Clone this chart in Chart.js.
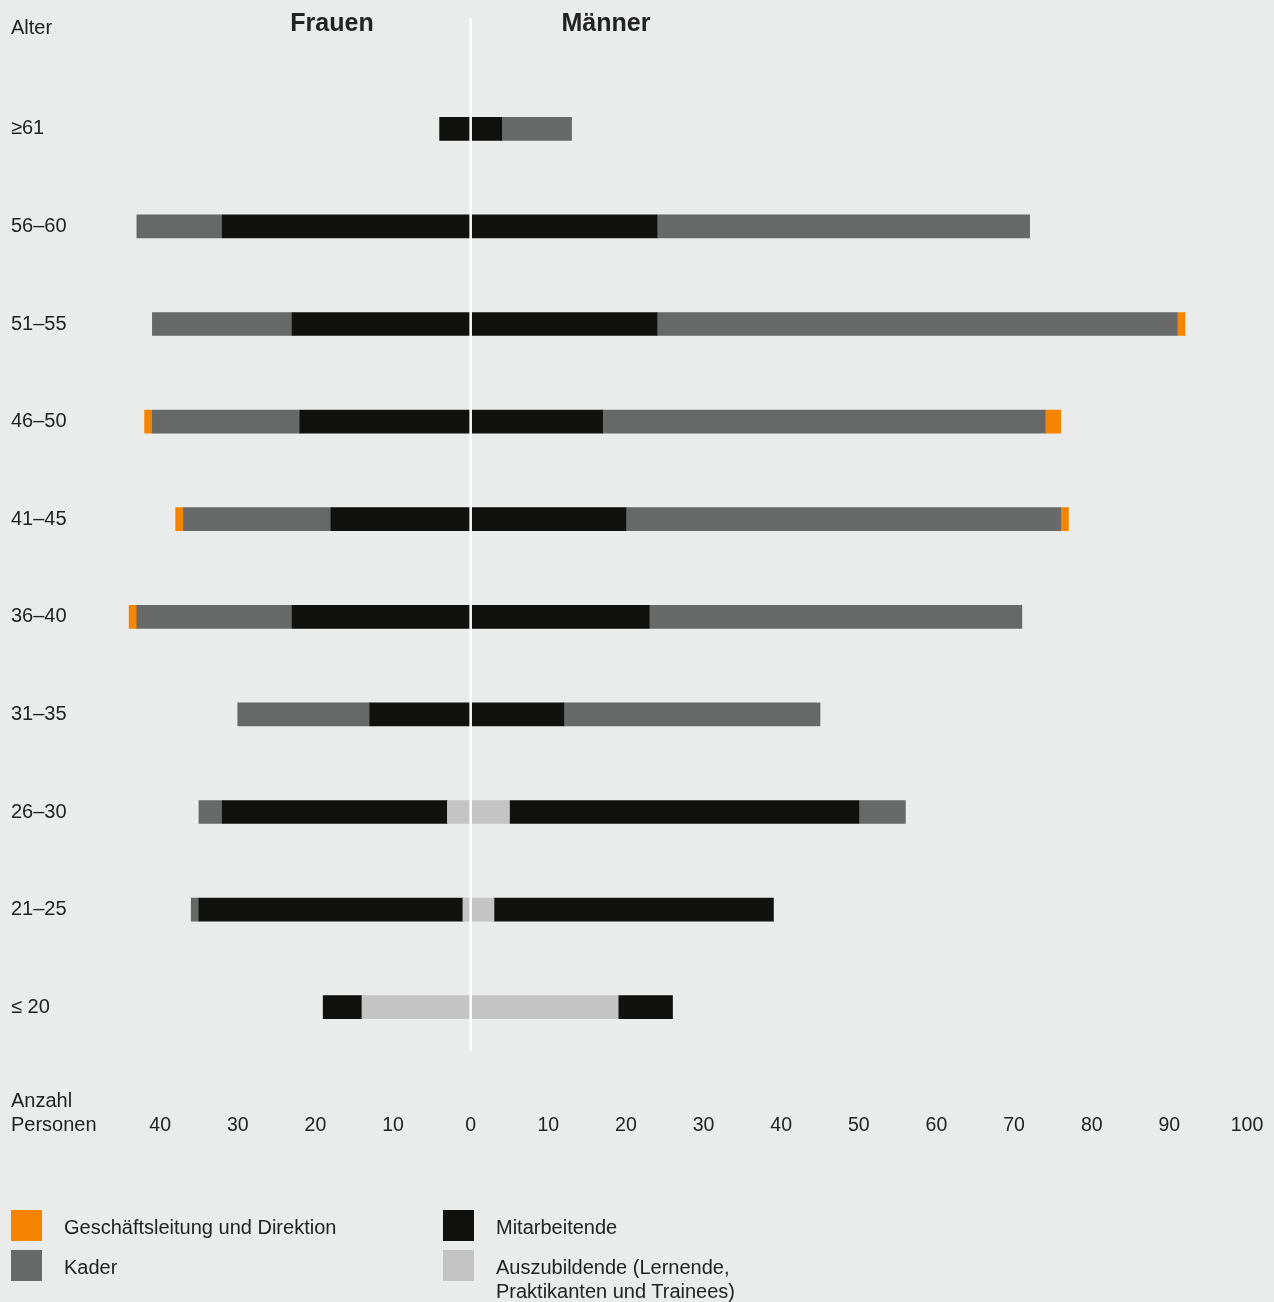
<!DOCTYPE html>
<html>
<head>
<meta charset="utf-8">
<script src="https://cdn.jsdelivr.net/npm/chart.js@4/dist/chart.umd.min.js"></script>
<style>
  body { margin: 0; background: #eaeceb; font-family: "Liberation Sans", Arial, sans-serif; color: #222; }
  #wrap { position: relative; width: 1274px; height: 1302px; }
  #chart { position: absolute; left: 0; top: 0; }
  .leg { position: absolute; font-size: 20px; line-height: 24px; }
  .sw { position: absolute; width: 31px; height: 31px; }
</style>
</head>
<body>
<div id="wrap">
  <canvas id="chart" width="1274" height="1302"></canvas>
  <div class="sw" style="left:11px;top:1210px;background:#f58400"></div>
  <div class="leg" style="left:64px;top:1215px">Geschäftsleitung und Direktion</div>
  <div class="sw" style="left:11px;top:1250px;background:#676968"></div>
  <div class="leg" style="left:64px;top:1255px">Kader</div>
  <div class="sw" style="left:443px;top:1210px;background:#111110"></div>
  <div class="leg" style="left:496px;top:1215px">Mitarbeitende</div>
  <div class="sw" style="left:443px;top:1250px;background:#c3c4c3"></div>
  <div class="leg" style="left:496px;top:1255px">Auszubildende (Lernende,<br>Praktikanten und Trainees)</div>
</div>
<script>
// Age groups (top to bottom)
const ageGroups = ["≥61", "56–60", "51–55", "46–50", "41–45", "36–40", "31–35", "26–30", "21–25", "≤ 20"];

// Frauen (drawn to the left)
const womenTrainees   = [0, 0, 0, 0, 0, 0, 0, 3, 1, 14];
const womenStaff      = [4, 32, 23, 22, 18, 23, 13, 29, 34, 5];
const womenCadre      = [0, 11, 18, 19, 19, 20, 17, 3, 1, 0];
const womenManagement = [0, 0, 0, 1, 1, 1, 0, 0, 0, 0];

// Männer (drawn to the right)
const menTrainees   = [0, 0, 0, 0, 0, 0, 0, 5, 3, 19];
const menStaff      = [4, 24, 24, 17, 20, 23, 12, 45, 36, 7];
const menCadre      = [9, 48, 67, 57, 56, 48, 33, 6, 0, 0];
const menManagement = [0, 0, 1, 2, 1, 0, 0, 0, 0, 0];

const colors = {
  management: "#f58400",
  cadre: "#676968",
  staff: "#111110",
  trainees: "#c3c4c3"
};

const FONT = '"Liberation Sans", Arial, sans-serif';
const TEXT = "#222222";

// zeros become null so no hairline bars get drawn
function left(arr) {
  return arr.map(v => (v === 0 ? null : -v));
}
function right(arr) {
  return arr.map(v => (v === 0 ? null : v));
}

function makeSet(label, data, color) {
  return {
    label: label,
    data: data,
    backgroundColor: color,
    borderWidth: 0,
    barThickness: 23,
    stack: "pyramid"
  };
}

// Extra texts + the white center line
const decorations = {
  id: "decorations",
  afterDatasetsDraw(chart) {
    const ctx = chart.ctx;
    const x0 = chart.scales.x.getPixelForValue(0);
    ctx.save();
    ctx.strokeStyle = "#ffffff";
    ctx.lineWidth = 2.5;
    ctx.beginPath();
    ctx.moveTo(x0, 18);
    ctx.lineTo(x0, 1051);
    ctx.stroke();

    ctx.fillStyle = TEXT;
    ctx.textBaseline = "middle";
    ctx.font = "bold 25px " + FONT;
    ctx.textAlign = "center";
    ctx.fillText("Frauen", 332, 24);
    ctx.fillText("Männer", 606, 24);

    ctx.font = "20px " + FONT;
    ctx.textAlign = "left";
    ctx.fillText("Alter", 11, 28);
    ctx.fillText("Anzahl", 11, 1101);
    ctx.fillText("Personen", 11, 1125);
    ctx.restore();
  }
};

new Chart(document.getElementById("chart"), {
  type: "bar",
  data: {
    labels: ageGroups,
    datasets: [
      makeSet("Auszubildende F", left(womenTrainees), colors.trainees),
      makeSet("Mitarbeitende F", left(womenStaff), colors.staff),
      makeSet("Kader F", left(womenCadre), colors.cadre),
      makeSet("Geschäftsleitung F", left(womenManagement), colors.management),
      makeSet("Auszubildende M", right(menTrainees), colors.trainees),
      makeSet("Mitarbeitende M", right(menStaff), colors.staff),
      makeSet("Kader M", right(menCadre), colors.cadre),
      makeSet("Geschäftsleitung M", right(menManagement), colors.management)
    ]
  },
  options: {
    indexAxis: "y",
    responsive: false,
    animation: false,
    layout: { padding: { left: 11, right: 27, top: 80, bottom: 146 } },
    plugins: {
      legend: { display: false },
      tooltip: { enabled: false }
    },
    scales: {
      x: {
        stacked: true,
        min: -50,
        max: 100,
        grid: { display: false, drawTicks: false },
        border: { display: false },
        afterFit(scale) {
          scale.height = 100;
          scale.paddingLeft = 0;
          scale.paddingRight = 0;
        },
        ticks: {
          stepSize: 10,
          autoSkip: false,
          maxRotation: 0,
          padding: 58,
          color: TEXT,
          font: { family: FONT, size: 19.5 },
          callback: v => (v < -40 ? "" : Math.abs(v))
        }
      },
      y: {
        stacked: true,
        grid: { display: false, drawTicks: false },
        border: { display: false },
        afterFit(scale) { scale.width = 71.5; },
        ticks: {
          crossAlign: "far",
          color: TEXT,
          font: { family: FONT, size: 20 }
        }
      }
    }
  },
  plugins: [decorations]
});
</script>
</body>
</html>
